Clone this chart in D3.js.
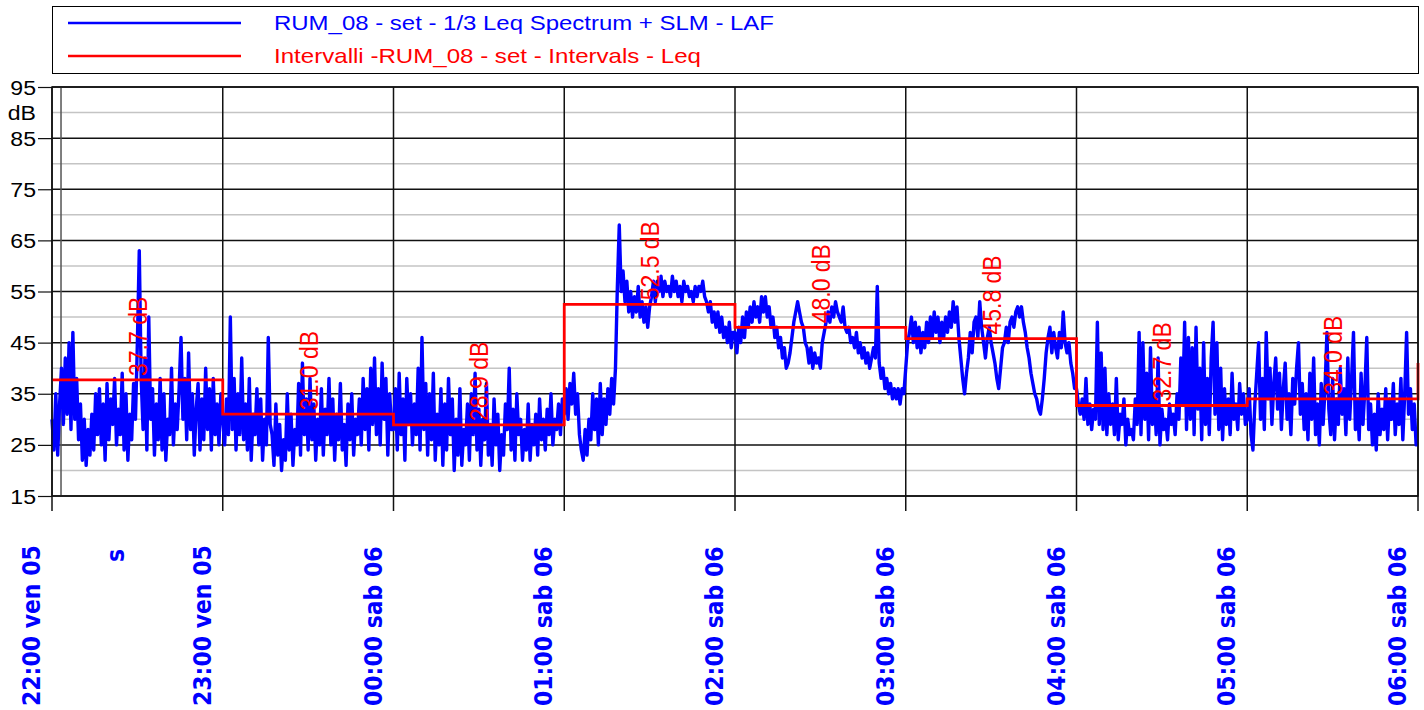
<!DOCTYPE html>
<html>
<head>
<meta charset="utf-8">
<script src="https://cdn.jsdelivr.net/npm/d3@7"></script>
<style>
body { margin: 0; background: #fff; }
svg { display: block; }
</style>
</head>
<body>
<div id="chart"></div>
<script>
// LAF values, one every 40 s, one array per hour
var laf22 = [30,24,35,23,33, 40,29,42,31,45,28,47,30, 38,26,33,22,30,21,28,23,31,24,
    35,27,36,25,33,22,37,26,34,29,38,25,32, 27,39,24,35,22,31,26,37,30, 45,63,38,
    28,42,24,50,30,36,23, 33,26,38,24,35,22,30,27,40,25,33,28,36,
    46,30,38,26,43,28,35,23,32,37,24, 34,26,40,28,36,24,38,27,33,25,35];
var laf23 = [30,25,34,27,50,28,38,24,35,27, 42,26,33,24,38,22,31,27,36,25,
    34,22,30,25,46,29,27,21,33,23, 29,20,26,22,35,24,31,21,28,25,
    37,23,41,27,34,24,38,26,33,22, 30,25,36,23,32,27,38,25,34,22,
    31,26,37,24,29,21,33,26,35,23, 30,27,34,25,38,28,36,24,40,29,
    42,27,36,25,41,30,38,23,35,28];
var laf00 = [28,36,24,39,27,34,22,38,29,35, 25,33,27,40,24,46,28,37,23,35,
    26,39,22,31,25,36,21,33,24,38, 27,34,20,30,23,36,21,28,25,33,
    22,35,27,39,24,32,21,30,26,37, 23,29,21,34,25,31,20,27,23,33,
    28,40,24,32,22,35,27,30,22,28, 24,33,22,29,25,31,23,34,26,30,
    24,32,27,35,25,30,28,33,27,34];
var laf01 = [31,36,30,37,33,39,31,35,27,24, 22,28,23,30,26,35,28,34,25,37,
    27,34,29,36,31,38,33,40,56,68, 55,59,53,57,51,55,50,54,51,56,
    50,53,49,52,48,52,54,57,53,57, 55,58,54,57,55,56,54,58,55,57,
    54,56,53,57,55,56,54,55,53,56, 54,56,55,57,54,53,51,53,49,51,
    48,51,47,50,46,48,45,49,44,47];
var laf02 = [47,43,48,45,50,46,51,48,52,49, 53,50,52,49,54,51,54,50,52,48,
    50,46,48,44,46,42,44,40,41,43, 46,49,51,53,51,49,48,45,44,41,
    44,40,43,41,42,40,45,47,49,51, 49,52,50,53,51,50,49,52,48,47,
    48,45,46,44,47,43,45,42,44,41, 43,40,42,44,42,56,41,38,40,36,
    38,35,37,34,36,34,36,33,36,35];
var laf03 = [40,45,47,50,45,49,44,48,43,47, 44,49,45,50,46,51,47,50,45,49,
    46,50,47,51,48,53,49,52,46,42, 38,35,39,42,47,43,49,50,46,53,
    48,45,42,46,48,45,43,41,38,36, 40,44,45,48,45,49,50,48,51,52,
    50,52,49,47,44,42,39,37,35,34, 32,31,34,38,43,46,48,43,47,44,
    42,47,44,51,45,43,45,41,39,36];
var laf04 = [36,33,31,34,30,38,29,33,28,32, 30,49,29,43,28,40,27,35,29,33,
    27,38,26,31,29,34,25,30,27,28, 26,34,29,47,27,45,30,39,26,44,
    29,35,27,42,25,32,28,30,26,33, 29,31,27,35,30,42,33,49,28,46,
    30,44,27,48,32,40,26,45,29,38, 27,42,49,31,45,28,40,26,36,29,
    34,27,39,30,33,28,37,31,35,29];
var laf05 = [30,36,27,24,33,39,45,30,38,28, 47,34,40,29,37,42,32,39,28,36,
    41,30,35,27,38,33,40,45,31,37, 28,35,26,39,30,42,27,33,25,37,
    29,36,47,32,27,38,26,34,29,40, 31,36,27,42,30,38,47,28,34,26,
    39,29,36,46,28,33,25,31,24,35, 27,32,28,36,26,34,30,37,27,33,
    29,38,26,35,47,31,36,28,33,25, 25];

// interval Leq (one per hour) + level at the closing edge
var intervalStart = ["22:00", "23:00", "00:00", "01:00", "02:00", "03:00", "04:00", "05:00"];
var intervalLeq = [37.7, 31.0, 28.9, 52.5, 48.0, 45.8, 32.7, 34.0];
var closingLeq = 41.0;

var yTicks = [15, 25, 35, 45, 55, 65, 75, 85, 95];
var yMinor = [20, 30, 40, 50, 60, 70, 80, 90];

var legendLabels = ["RUM_08 - set - 1/3 Leq Spectrum + SLM - LAF",
                    "Intervalli -RUM_08 - set - Intervals - Leq"];

var margin = { top: 87, right: 6, bottom: 214, left: 52 },
    width = 1424 - margin.left - margin.right,
    height = 710 - margin.top - margin.bottom;

var itLocale = d3.timeFormatLocale({
    dateTime: "%A %e %B %Y, %X", date: "%d/%m/%Y", time: "%H:%M:%S", periods: ["AM", "PM"],
    days: ["domenica", "lunedì", "martedì", "mercoledì", "giovedì", "venerdì", "sabato"],
    shortDays: ["dom", "lun", "mar", "mer", "gio", "ven", "sab"],
    months: ["gennaio", "febbraio", "marzo", "aprile", "maggio", "giugno", "luglio", "agosto", "settembre", "ottobre", "novembre", "dicembre"],
    shortMonths: ["gen", "feb", "mar", "apr", "mag", "giu", "lug", "ago", "set", "ott", "nov", "dic"]
});
var fmtTick = itLocale.format("%H:%M %a %d");

var t0 = new Date(2024, 3, 5, 22, 0, 0),
    t1 = new Date(2024, 3, 6, 6, 0, 0);
function hourTime(s) {
    var h = +s.split(":")[0];
    return new Date(2024, 3, h >= 12 ? 5 : 6, h, 0, 0);
}

var laf = [].concat(laf22, laf23, laf00, laf01, laf02, laf03, laf04, laf05);
var lafData = laf.map(function(v, i) { return { t: new Date(t0.getTime() + i * 40000), v: v }; });

var stepData = intervalStart.map(function(s, i) { return { t: hourTime(s), v: intervalLeq[i] }; });
stepData.push({ t: t1, v: closingLeq });

var x = d3.scaleTime().domain([t0, t1]).range([0, width]);
var y = d3.scaleLinear().domain([15, 95]).range([height, 0]);

var svg = d3.select("#chart").append("svg")
    .attr("width", 1424)
    .attr("height", 710);

// legend
var legend = svg.append("g");
legend.append("rect")
    .attr("x", 52.5).attr("y", 6.5)
    .attr("width", 1366).attr("height", 67)
    .attr("fill", "none").attr("stroke", "#000").attr("stroke-width", 1);
var legColors = ["#0000ff", "#ff0000"], legY = [23, 56], legLen = [500, 427];
legendLabels.forEach(function(lbl, i) {
    legend.append("line")
        .attr("x1", 68).attr("x2", 241)
        .attr("y1", legY[i]).attr("y2", legY[i])
        .attr("stroke", legColors[i]).attr("stroke-width", 2.5);
    legend.append("text")
        .attr("x", 274).attr("y", legY[i] + 7)
        .attr("textLength", legLen[i])
        .attr("lengthAdjust", "spacingAndGlyphs")
        .style("font", "21px 'Liberation Sans', Arial, sans-serif")
        .attr("fill", legColors[i])
        .text(lbl);
});

var g = svg.append("g")
    .attr("transform", "translate(" + margin.left + "," + margin.top + ")");

// minor grey grid
g.selectAll(".minor").data(yMinor).enter().append("line")
    .attr("x1", 0).attr("x2", width)
    .attr("y1", function(d) { return y(d); }).attr("y2", function(d) { return y(d); })
    .attr("stroke", "#c4c4c4").attr("stroke-width", 1.5);

// major black grid
g.selectAll(".major").data(yTicks).enter().append("line")
    .attr("x1", 0).attr("x2", width)
    .attr("y1", function(d) { return y(d); }).attr("y2", function(d) { return y(d); })
    .attr("stroke", "#111").attr("stroke-width", 1.5);

var hours = d3.timeHour.range(t0, new Date(t1.getTime() + 1));
g.selectAll(".vgrid").data(hours).enter().append("line")
    .attr("x1", function(d) { return x(d); }).attr("x2", function(d) { return x(d); })
    .attr("y1", 0).attr("y2", height + 15)
    .attr("stroke", "#111").attr("stroke-width", 1.5);

// cursor line
var cursorTime = new Date(2024, 3, 5, 22, 3, 10);
g.append("line")
    .attr("x1", x(cursorTime)).attr("x2", x(cursorTime))
    .attr("y1", 0).attr("y2", height)
    .attr("stroke", "#555").attr("stroke-width", 1.5);

// y axis
var yAxis = g.append("g")
    .call(d3.axisLeft(y).tickValues(yTicks).tickSize(14).tickPadding(3));
yAxis.select(".domain").remove();
yAxis.selectAll(".tick line").attr("stroke", "#111").attr("stroke-width", 1.2);
yAxis.selectAll(".tick text")
    .attr("x", null).attr("dy", null)
    .attr("transform", "translate(-16,7) scale(1.1,1)")
    .style("font", "21px 'Liberation Sans', Arial, sans-serif")
    .attr("fill", "#000");
g.append("text")
    .attr("transform", "translate(-16," + (y(90) + 7) + ") scale(1.1,1)")
    .attr("text-anchor", "end")
    .style("font", "21px 'Liberation Sans', Arial, sans-serif")
    .text("dB");

// LAF trace
var line = d3.line()
    .x(function(d) { return x(d.t); })
    .y(function(d) { return y(d.v); });
g.append("path")
    .datum(lafData)
    .attr("d", line)
    .attr("fill", "none")
    .attr("stroke", "#0000ff")
    .attr("stroke-width", 3.4)
    .attr("stroke-linejoin", "round");

// interval Leq steps
var step = d3.line()
    .curve(d3.curveStepAfter)
    .x(function(d) { return x(d.t); })
    .y(function(d) { return y(d.v); });
g.append("path")
    .datum(stepData)
    .attr("d", step)
    .attr("fill", "none")
    .attr("stroke", "#ff0000")
    .attr("stroke-width", 2.8);

g.selectAll(".leqlabel").data(stepData.slice(0, intervalLeq.length)).enter().append("text")
    .attr("transform", function(d) {
        var mid = new Date(d.t.getTime() + 1800000);
        return "translate(" + (x(mid) + 9.5) + "," + (y(d.v) - 4) + ") scale(1.1,1) rotate(-90)";
    })
    .style("font", "23px 'Liberation Sans', Arial, sans-serif")
    .attr("fill", "#ff0000")
    .text(function(d) { return d.v.toFixed(1) + " dB"; });

// plot frame
g.append("rect")
    .attr("x", 0).attr("y", 0)
    .attr("width", width).attr("height", height)
    .attr("fill", "none").attr("stroke", "#111").attr("stroke-width", 1.5);

// x tick labels
var xl = svg.append("g").attr("transform", "translate(" + margin.left + ",0)");
xl.selectAll(".xlabel").data(hours).enter().append("text")
    .attr("transform", function(d) {
        return "translate(" + (x(d) - 12) + ",706) scale(1.1,1) rotate(-90)";
    })
    .style("font", "bold 22px 'DejaVu Sans', Verdana, sans-serif")
    .attr("fill", "#0000ff")
    .text(function(d) { return fmtTick(d); });

svg.append("text")
    .attr("transform", "translate(124,562) scale(1.1,1) rotate(-90)")
    .style("font", "bold 22px 'DejaVu Sans', Verdana, sans-serif")
    .attr("fill", "#0000ff")
    .text("s");
</script>
</body>
</html>
